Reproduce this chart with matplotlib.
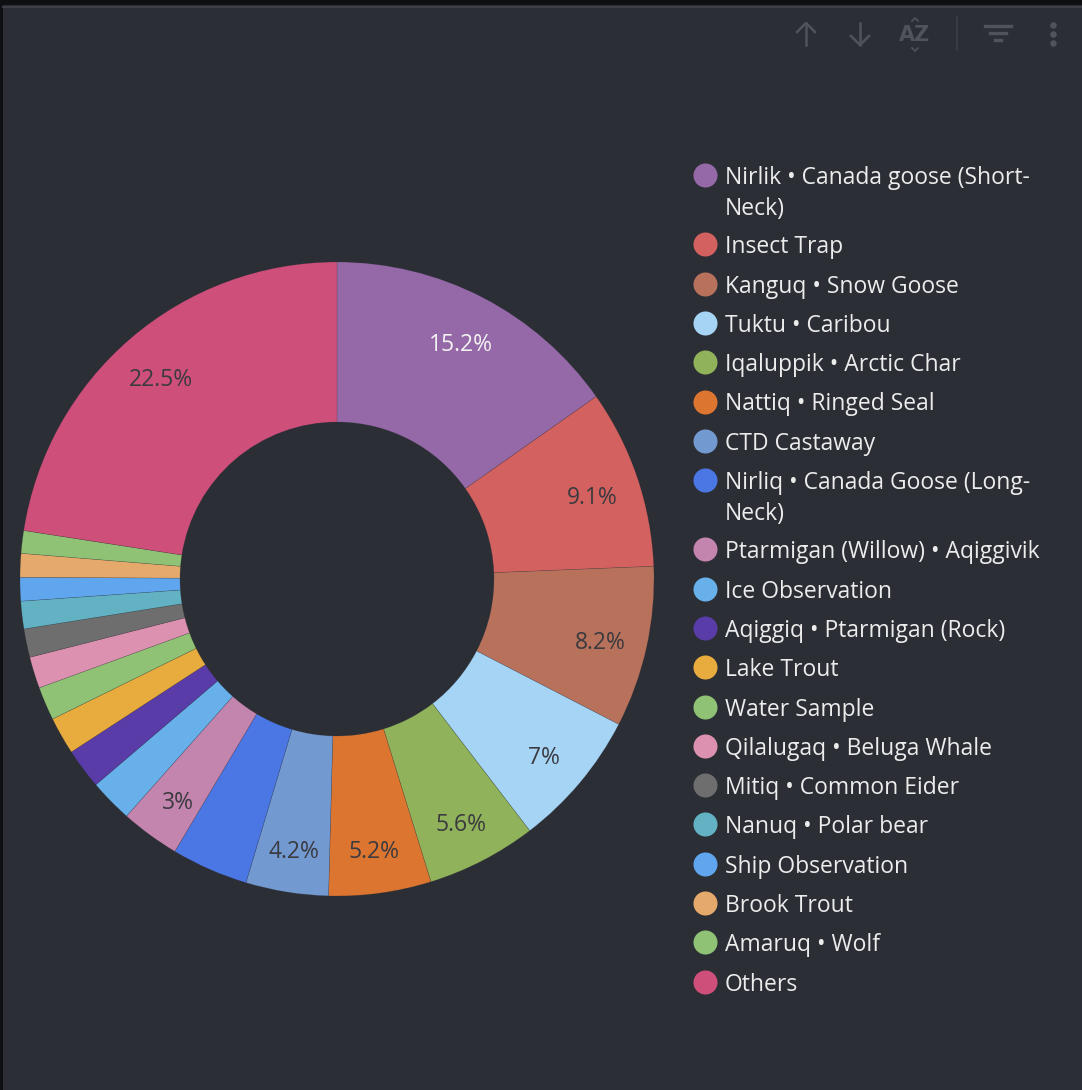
import matplotlib.pyplot as plt
import numpy as np

# data
names = [
    "Nirlik • Canada goose (Short-\nNeck)",
    "Insect Trap",
    "Kanguq • Snow Goose",
    "Tuktu • Caribou",
    "Iqaluppik • Arctic Char",
    "Nattiq • Ringed Seal",
    "CTD Castaway",
    "Nirliq • Canada Goose (Long-\nNeck)",
    "Ptarmigan (Willow) • Aqiggivik",
    "Ice Observation",
    "Aqiggiq • Ptarmigan (Rock)",
    "Lake Trout",
    "Water Sample",
    "Qilalugaq • Beluga Whale",
    "Mitiq • Common Eider",
    "Nanuq • Polar bear",
    "Ship Observation",
    "Brook Trout",
    "Amaruq • Wolf",
    "Others",
]
shares = [15.2, 9.1, 8.2, 7.0, 5.6, 5.2, 4.2, 3.9, 3.0, 2.2,
          2.05, 1.9, 1.7, 1.6, 1.45, 1.4, 1.2, 1.2, 1.15, 22.5]
colors = ["#9569a8", "#d3615f", "#b8725c", "#a6d4f5", "#8fb25a",
          "#dc7530", "#7399d1", "#4b77e5", "#c384ae", "#67b0e9",
          "#5a3ca8", "#e8ab3d", "#8fc274", "#dd91b0", "#6e6e6e",
          "#63b2c3", "#5fa6ef", "#e5a96b", "#8fc274", "#ce4f7a"]
# slices whose percentage is printed on the ring
shown = [0, 1, 2, 3, 4, 5, 6, 8, 19]

bg = "#2b2e35"
W, H = 1082, 1090
plt.rcParams['font.family'] = ['Open Sans', 'DejaVu Sans']

fig = plt.figure(figsize=(W / 100, H / 100), dpi=100, facecolor=bg)

# overlay in pixel coords for frame, toolbar and legend
ov = fig.add_axes([0, 0, 1, 1])
ov.set_xlim(0, W)
ov.set_ylim(H, 0)
ov.axis('off')

ov.add_patch(plt.Rectangle((0, 0), W, 5, color="#0e0f11", lw=0))
ov.add_patch(plt.Rectangle((0, 0), 2.5, H, color="#0e0f11", lw=0))
ov.plot([2.5, W], [6.5, 6.5], color="#3c3f46", lw=1.5)

# toolbar icons
ic = "#50535a"
ov.plot([806, 806], [45, 23], color=ic, lw=1.8)
ov.plot([797, 806, 815], [32, 23, 32], color=ic, lw=1.8)
ov.plot([860, 860], [23, 45], color=ic, lw=1.8)
ov.plot([851, 860, 869], [36, 45, 36], color=ic, lw=1.8)
ov.text(915, 35, "AZ", color=ic, fontsize=15, fontweight='bold',
        ha='center', va='center', family='DejaVu Sans')
ov.plot([912, 915, 918], [21, 18, 21], color=ic, lw=1.2)
ov.plot([912, 915, 918], [48, 51, 48], color=ic, lw=1.2)
ov.plot([957, 957], [17, 50], color="#3d4047", lw=1.2)
ov.plot([985, 1011], [26, 26], color=ic, lw=2.4)
ov.plot([990, 1006], [33, 33], color=ic, lw=2.4)
ov.plot([995, 1001], [40, 40], color=ic, lw=2.4)
ov.scatter([1053] * 3, [25, 34, 43], s=22, color=ic, lw=0)

# legend
y = 175
for name, c in zip(names, colors):
    ov.scatter(705, y, s=300, color=c, lw=0, zorder=3)
    for k, line in enumerate(name.split("\n")):
        ov.text(725, y + 3 + 31 * k, line, color="#ececec", fontsize=16.5,
                va='center', ha='left')
    y += 39.3 + 30 * name.count("\n")

# donut, in pixel units around the centre
cx, cy, R = 337, 579, 317
S = 330
ax = fig.add_axes([(cx - S) / W, (H - cy - S) / H, 2 * S / W, 2 * S / H])

wedges, _ = ax.pie(shares, colors=colors, radius=R, startangle=90,
                   counterclock=False,
                   wedgeprops=dict(width=R - 157, linewidth=0.4,
                                   edgecolor=(0.17, 0.18, 0.21, 0.3)))
ax.set_xlim(-S, S)
ax.set_ylim(-S, S)
ax.set_aspect('equal')
ax.axis('off')

for i in shown:
    w = wedges[i]
    t = np.deg2rad((w.theta1 + w.theta2) / 2)
    r = 270
    tc = "#f2f2f2" if i == 0 else "#3a3a3f"
    ax.text(r * np.cos(t), r * np.sin(t) - 6, f"{shares[i]:g}%",
            ha='center', va='center', fontsize=16.5, color=tc)

fig.savefig("out.png", dpi=100, facecolor=bg)
